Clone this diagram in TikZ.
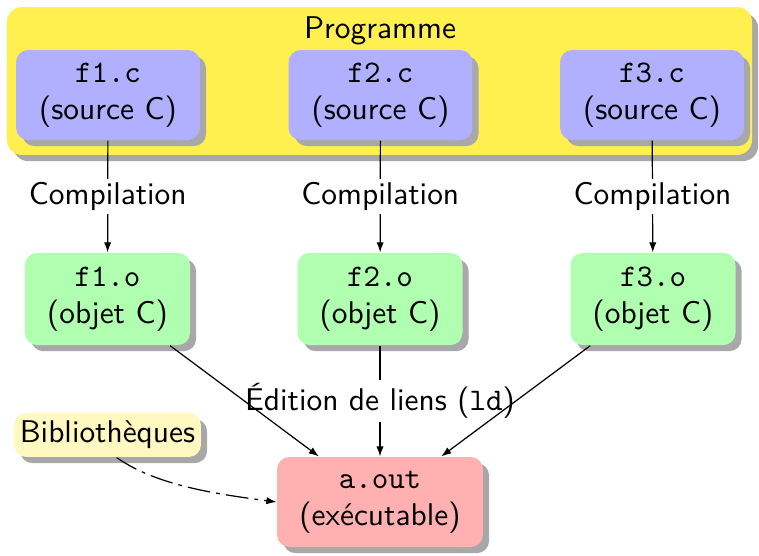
\documentclass[tikz,border=0pt]{standalone}
\usetikzlibrary{shadows,arrows.meta}
\definecolor{progyellow}{RGB}{255,240,80}
\definecolor{bibyellow}{RGB}{255,248,192}
\definecolor{srcblue}{RGB}{176,176,255}
\definecolor{objgreen}{RGB}{176,255,176}
\definecolor{exered}{RGB}{255,176,176}
\newcommand{\diagfont}{\sffamily\fontsize{10.3pt}{12.3pt}\selectfont}
\tikzset{
  shad/.style={drop shadow={shadow xshift=2pt,shadow yshift=-2pt,fill=black!34,opacity=1}},
  boxbase/.style={rounded corners=4pt,shad,align=center,inner sep=1pt,font=\diagfont},
  srcbox/.style={boxbase,fill=srcblue,minimum width=60.3pt,minimum height=29.5pt},
  objbox/.style={boxbase,fill=objgreen,minimum width=54.1pt,minimum height=30.2pt},
  exebox/.style={boxbase,fill=exered,minimum width=67.5pt,minimum height=29.5pt},
  bibbox/.style={boxbase,fill=bibyellow,minimum width=61.3pt,minimum height=14.4pt},
  progbox/.style={rounded corners=5pt,shad,fill=progyellow,minimum width=244.3pt,minimum height=48.5pt},
  arr/.style={-{Latex[length=3.3pt,width=2.4pt]},line width=0.4pt},
  lab/.style={fill=white,inner sep=1pt,font=\diagfont},
  dd/.style={dash pattern=on 7.5pt off 2pt on 1.2pt off 2pt},
}
\begin{document}
\begin{tikzpicture}[x=0.32787pt,y=-0.32787pt]
\useasboundingbox (0,0) rectangle (759,555);
\node[progbox] (prog) at (379.5,81) {};
\node[font=\diagfont] (progtitle) at (380,31) {Programme};
\node[srcbox] (f1c) at (108,95) {\texttt{f1.c}\\(source C)};
\node[srcbox] (f2c) at (380.5,95) {\texttt{f2.c}\\(source C)};
\node[srcbox] (f3c) at (652,95) {\texttt{f3.c}\\(source C)};
\node[objbox] (f1o) at (107.5,299) {\texttt{f1.o}\\(objet C)};
\node[objbox] (f2o) at (380,299) {\texttt{f2.o}\\(objet C)};
\node[objbox] (f3o) at (653,299) {\texttt{f3.o}\\(objet C)};
\node[exebox] (aout) at (380,502) {\texttt{a.out}\\(exécutable)};
\node[bibbox] (bib) at (107.5,435) {Bibliothèques};
\draw[arr] (f1c) -- node[lab] (c1) {Compilation} (f1o);
\draw[arr] (f2c) -- node[lab] (c2) {Compilation} (f2o);
\draw[arr] (f3c) -- node[lab] (c3) {Compilation} (f3o);
\draw[arr] (f2o) -- node[lab] (ed) {Édition de liens (\texttt{ld})} (aout);
\draw[arr] (f1o) -- (aout);
\draw[arr] (f3o) -- (aout);
\draw[arr,dd] ([xshift=3pt]bib.south) .. controls +(40,28) and +(-60,-8) .. (aout.west);
\end{tikzpicture}
\end{document}
